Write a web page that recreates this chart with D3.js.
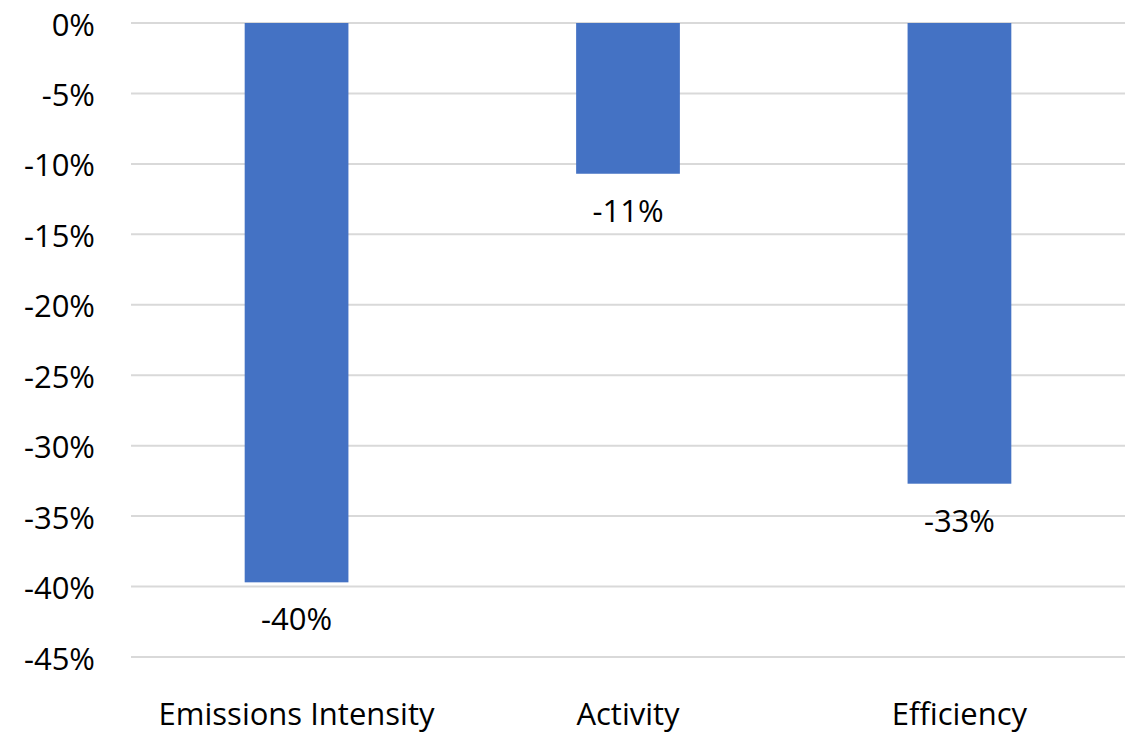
<!DOCTYPE html>
<html>
<head>
<meta charset="utf-8">
<script src="https://cdn.jsdelivr.net/npm/d3@7"></script>
<style>
  html, body { margin: 0; padding: 0; background: #fff; }
  svg { display: block; }
  text { font-family: "Open Sans", Lato, sans-serif; fill: #000; }
</style>
</head>
<body>
<div id="chart"></div>
<script>
// Decomposition of change, by driver
const categories = ["Emissions Intensity", "Activity", "Efficiency"];
const changes = [-0.397, -0.107, -0.327];
const yTicks = [0, -0.05, -0.10, -0.15, -0.20, -0.25, -0.30, -0.35, -0.40, -0.45];

const width = 1138, height = 735;
const margin = { top: 23, right: 13, bottom: 78, left: 131 };
const fontFamily = "'Open Sans', Lato, sans-serif";
const fontSize = 31;

const svg = d3.select("#chart").append("svg")
  .attr("width", width).attr("height", height);

const x = d3.scaleBand()
  .domain(categories)
  .range([margin.left, width - margin.right])
  .paddingInner(0.687)
  .paddingOuter(0.343);

const y = d3.scaleLinear()
  .domain([0, -0.45])
  .range([margin.top, height - margin.bottom]);

const pct = d3.format(".0%");
const fmt = v => pct(v).replace("−", "-");

// horizontal gridlines
svg.append("g")
  .selectAll("line")
  .data(yTicks)
  .join("line")
  .attr("x1", margin.left)
  .attr("x2", width - margin.right)
  .attr("y1", d => y(d))
  .attr("y2", d => y(d))
  .attr("stroke", "#d9d9d9")
  .attr("stroke-width", 2);

// y axis labels
const yAxis = d3.axisLeft(y)
  .tickValues(yTicks)
  .tickFormat(fmt)
  .tickSize(0)
  .tickPadding(36);

svg.append("g")
  .attr("transform", `translate(${margin.left},0)`)
  .call(yAxis)
  .call(g => g.select(".domain").remove())
  .call(g => g.selectAll("text")
    .attr("dy", null)
    .attr("dominant-baseline", "central")
    .attr("font-size", fontSize)
    .attr("font-family", fontFamily)
    .attr("fill", "#000"));

// bars
svg.append("g")
  .selectAll("rect")
  .data(categories)
  .join("rect")
  .attr("x", d => x(d))
  .attr("width", x.bandwidth())
  .attr("y", y(0))
  .attr("height", (d, i) => y(changes[i]) - y(0))
  .attr("fill", "#4472c4");

// value labels below each bar
svg.append("g")
  .selectAll("text")
  .data(categories)
  .join("text")
  .attr("x", d => x(d) + x.bandwidth() / 2)
  .attr("y", (d, i) => y(changes[i]) + 36)
  .attr("text-anchor", "middle")
  .attr("dominant-baseline", "central")
  .attr("font-size", fontSize)
  .attr("font-family", fontFamily)
  .text((d, i) => fmt(changes[i]));

// category labels
const xAxis = d3.axisBottom(x).tickSize(0).tickPadding(0);
svg.append("g")
  .attr("transform", `translate(0,${height - 22})`)
  .call(xAxis)
  .call(g => g.select(".domain").remove())
  .call(g => g.selectAll("text")
    .attr("dy", null)
    .attr("y", 0)
    .attr("dominant-baseline", "central")
    .attr("font-size", fontSize)
    .attr("font-family", fontFamily)
    .attr("fill", "#000"));
</script>
</body>
</html>
